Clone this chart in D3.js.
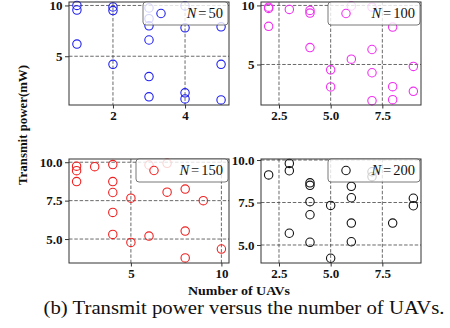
<!DOCTYPE html>
<html>
<head>
<meta charset="utf-8">
<script src="https://cdn.jsdelivr.net/npm/d3@7"></script>
<style>
  body { margin: 0; background: #fff; }
  svg { display: block; }
  svg text { font-family: "Liberation Serif", "Times New Roman", serif; }
</style>
</head>
<body>
<div id="chart"></div>
<script>
// values
const n50X = [1, 1, 1, 2, 2, 2, 3, 3, 3, 3, 3, 3, 4, 4, 4, 4, 5, 5, 5];
const n50Y = [10.0, 9.55, 6.2, 9.85, 9.5, 4.2, 9.75, 8.7, 8.0, 6.6, 3.0, 1.0, 9.95, 7.8, 1.4, 0.8, 7.9, 4.2, 0.7];

const n100X = [2, 2, 2, 3, 4, 4, 4, 5, 5, 6, 6, 7, 7, 7, 7, 8, 8, 8, 9, 9];
const n100Y = [9.85, 9.75, 8.23, 9.66, 9.58, 9.35, 6.43, 4.55, 3.1, 9.95, 5.45, 9.86, 6.27, 4.3, 1.94, 8.17, 3.12, 2.02, 4.84, 2.73];

const n150X = [2, 2, 2, 3, 4, 4, 4, 4, 4, 5, 5, 6, 6, 7, 7, 8, 8, 8, 9, 10];
const n150Y = [9.74, 9.45, 8.74, 9.71, 9.85, 8.74, 8.03, 6.73, 5.3, 7.66, 4.78, 9.82, 5.19, 9.93, 8.05, 8.25, 5.52, 3.77, 7.5, 4.35];

const n200X = [2, 3, 3, 3, 4, 4, 4, 4, 4, 5, 5, 6, 6, 6, 6, 7, 7, 8, 9, 9];
const n200Y = [9.12, 9.8, 9.37, 5.69, 8.66, 8.51, 7.55, 6.78, 5.16, 7.33, 4.22, 8.45, 7.78, 6.29, 5.19, 9.31, 9.02, 6.29, 7.75, 7.31];

const xTicks50 = [2, 4], xTicks150 = [5, 10], xTicksWide = [2.5, 5.0, 7.5];
const yTicksTop = [5, 10], yTicksBottom = [5.0, 7.5, 10.0];

const width = 450, height = 328;
const fInt = d3.format("d"), fOne = d3.format(".1f");

const panels = [
  {n: 50, xs: n50X, ys: n50Y, color: "#2020f0", xDom: [0.78, 5.22], yDom: [0.2, 10.34],
   box: [69, 2, 229, 105], xTicks: xTicks50, yTicks: yTicksTop, xFmt: fInt, yFmt: fInt, leg: 86},
  {n: 100, xs: n100X, ys: n100Y, color: "#f030f0", xDom: [1.63, 9.37], yDom: [1.57, 10.29],
   box: [261, 2, 421, 105], xTicks: xTicksWide, yTicks: yTicksTop, xFmt: fOne, yFmt: fInt, leg: 93},
  {n: 150, xs: n150X, ys: n150Y, color: "#f02020", xDom: [1.58, 10.42], yDom: [3.44, 10.21],
   box: [69, 159, 229, 263], xTicks: xTicks150, yTicks: yTicksBottom, xFmt: fInt, yFmt: fOne, leg: 93},
  {n: 200, xs: n200X, ys: n200Y, color: "#111", xDom: [1.63, 9.37], yDom: [3.94, 10.06],
   box: [261, 159, 421, 263], xTicks: xTicksWide, yTicks: yTicksBottom, xFmt: fOne, yFmt: fOne, leg: 93}
];

const svg = d3.select("#chart").append("svg")
  .attr("width", width)
  .attr("height", height);

panels.forEach(p => {
  const [x0, y0, x1, y1] = p.box;
  const x = d3.scaleLinear().domain(p.xDom).range([x0, x1]);
  const y = d3.scaleLinear().domain(p.yDom).range([y1, y0]);
  const g = svg.append("g");

  // grid
  g.append("g").selectAll("line")
    .data(p.xTicks)
    .join("line")
      .attr("x1", d => x(d)).attr("x2", d => x(d))
      .attr("y1", y0).attr("y2", y1)
      .attr("stroke", "#444").attr("stroke-width", 0.8)
      .attr("stroke-dasharray", "3.5,1.8");
  g.append("g").selectAll("line")
    .data(p.yTicks)
    .join("line")
      .attr("x1", x0).attr("x2", x1)
      .attr("y1", d => y(d)).attr("y2", d => y(d))
      .attr("stroke", "#444").attr("stroke-width", 0.8)
      .attr("stroke-dasharray", "3.5,1.8");

  // axes
  const xAxis = g.append("g")
    .attr("transform", `translate(0,${y1})`)
    .call(d3.axisBottom(x).tickValues(p.xTicks).tickFormat(p.xFmt).tickSize(3.5).tickPadding(2));
  const yAxis = g.append("g")
    .attr("transform", `translate(${x0},0)`)
    .call(d3.axisLeft(y).tickValues(p.yTicks).tickFormat(p.yFmt).tickSize(4).tickPadding(2.5));
  [xAxis, yAxis].forEach(a => {
    a.attr("font-family", null);
    a.select(".domain").remove();
    a.selectAll(".tick line").attr("stroke", "#333");
    a.selectAll("text")
      .attr("font-size", 13)
      .attr("font-weight", "bold")
      .attr("fill", "#111");
  });

  // points
  g.append("g").selectAll("circle")
    .data(d3.range(p.xs.length))
    .join("circle")
      .attr("cx", i => x(p.xs[i]))
      .attr("cy", i => y(p.ys[i]))
      .attr("r", 4.2)
      .attr("fill", "none")
      .attr("stroke", p.color)
      .attr("stroke-width", 1.1);

  // frame
  g.append("rect")
    .attr("x", x0).attr("y", y0)
    .attr("width", x1 - x0).attr("height", y1 - y0)
    .attr("fill", "none")
    .attr("stroke", "#333").attr("stroke-width", 1);

  // legend
  const lx = x1 - p.leg, ly = y0;
  const leg = g.append("g");
  leg.append("rect")
    .attr("x", lx).attr("y", ly)
    .attr("width", p.leg - 1).attr("height", 23)
    .attr("rx", 3)
    .attr("fill", "#fff").attr("fill-opacity", 0.8)
    .attr("stroke", "#555").attr("stroke-width", 0.8);
  leg.append("circle")
    .attr("cx", lx + 18).attr("cy", ly + 11.5)
    .attr("r", 4.2)
    .attr("fill", "none")
    .attr("stroke", p.color)
    .attr("stroke-width", 1.1);
  const t = leg.append("text")
    .attr("x", x1 - 6).attr("y", ly + 15.5)
    .attr("text-anchor", "end")
    .attr("font-size", 14.5)
    .attr("fill", "#111");
  t.append("tspan").attr("font-style", "italic").text("N");
  t.append("tspan").attr("dx", 2).text("=");
  t.append("tspan").attr("dx", 2).text(p.n);
});

// axis titles and caption
svg.append("text")
  .attr("transform", "translate(22,125) rotate(-90)")
  .attr("text-anchor", "middle")
  .attr("dy", "0.35em")
  .attr("font-size", 13)
  .attr("font-weight", "bold")
  .attr("fill", "#111")
  .attr("textLength", 120)
  .attr("lengthAdjust", "spacingAndGlyphs")
  .text("Transmit power(mW)");

svg.append("text")
  .attr("x", 239).attr("y", 295)
  .attr("text-anchor", "middle")
  .attr("font-size", 12)
  .attr("font-weight", "bold")
  .attr("fill", "#111")
  .attr("textLength", 102)
  .attr("lengthAdjust", "spacingAndGlyphs")
  .text("Number of UAVs");

svg.append("text")
  .attr("x", 244).attr("y", 314)
  .attr("text-anchor", "middle")
  .attr("font-size", 19)
  .attr("fill", "#111")
  .attr("textLength", 401)
  .attr("lengthAdjust", "spacingAndGlyphs")
  .text("(b) Transmit power versus the number of UAVs.");
</script>
</body>
</html>
